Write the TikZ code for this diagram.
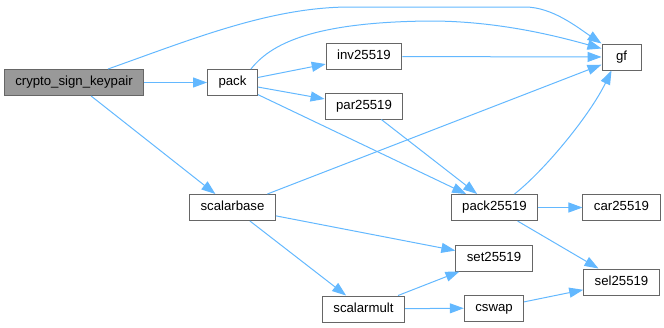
\documentclass[tikz,border=0pt]{standalone}
\usepackage{fontspec}
\setmainfont{Liberation Sans}
\usepackage{tikz}
\usetikzlibrary{arrows.meta,positioning}
\definecolor{callblue}{HTML}{63B8FF}
\definecolor{boxgrey}{HTML}{666666}
\definecolor{rootgrey}{HTML}{999999}
\tikzset{
  fnbox/.style ={rectangle, draw=boxgrey, line width=1bp, fill=white,
                 minimum height=26bp, minimum width=39bp, inner xsep=11bp,
                 inner ysep=0pt, text height=9.6bp, text depth=2.8bp,
                 font=\fontsize{13.2bp}{15bp}\selectfont},
  fnroot/.style={fnbox, fill=rootgrey},
  call/.style  ={-{Triangle[length=14bp,width=10bp]}, draw=callblue,
                 line width=1bp}
}

\begin{document}
\begin{tikzpicture}[x=1bp, y=-1bp]
  \useasboundingbox (0,0) rectangle (664,327);
  \node[fnroot] (keypair) at (74,82.5)    {crypto\_sign\_keypair};
  \node[fnbox]  (pack)    at (232.5,82.5) {pack};
  \node[fnbox]  (inv)     at (364,56.5)   {inv25519};
  \node[fnbox]  (par)     at (364,106)    {par25519};
  \node[fnbox]  (gf)      at (621.5,57)   {gf};
  \node[fnbox]  (scbase)  at (232.5,207.5) {scalarbase};
  \node[fnbox]  (pk)      at (494.5,207.5) {pack25519};
  \node[fnbox]  (car)     at (621.5,207.5) {car25519};
  \node[fnbox]  (setf)    at (494,258)    {set25519};
  \node[fnbox]  (sel)     at (621.5,282)  {sel25519};
  \node[fnbox]  (scmult)  at (363.5,309)  {scalarmult};
  \node[fnbox]  (cswap)   at (494,308)    {cswap};

  \draw[call] (keypair) -- (pack);
  \draw[call] ([xshift=34bp]keypair.north) .. controls (190,40) and (270,7) .. (350,7)
              -- (525,7) .. controls (552,7) and (577,27) .. (gf.north west);
  \draw[call] (keypair) -- (scbase);
  \draw[call] ([xshift=-7bp]pack.north east) .. controls (270,45) and (310,22) .. (430,21)
              .. controls (500,21) and (560,37) .. ([yshift=-5bp]gf.north west);
  \draw[call] (pack) -- (inv);
  \draw[call] (pack) -- (par);
  \draw[call] (pack) -- (pk);
  \draw[call] (inv) -- (gf);
  \draw[call] (par) -- (pk);
  \draw[call] (scbase) -- (gf);
  \draw[call] (scbase) -- (setf);
  \draw[call] (scbase) -- (scmult);
  \draw[call] ([xshift=20bp]pk.north) .. controls (545,170) and (590,115)
              .. ([xshift=-10bp]gf.south);
  \draw[call] (pk) -- (car);
  \draw[call] (pk) -- (sel);
  \draw[call] (scmult) -- (setf);
  \draw[call] (scmult) -- (cswap);
  \draw[call] (cswap) -- (sel);
\end{tikzpicture}
\end{document}
